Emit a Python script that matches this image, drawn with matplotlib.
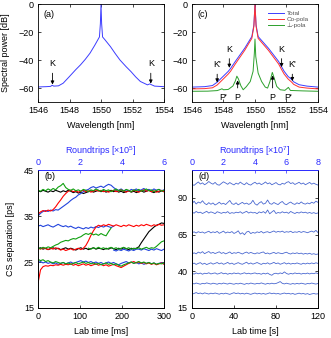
import matplotlib
matplotlib.use('Agg')
import matplotlib.pyplot as plt
import numpy as np

plt.rcParams['font.family'] = ['Liberation Sans', 'DejaVu Sans']
plt.rcParams['font.size'] = 6.5
plt.rcParams['mathtext.default'] = 'regular'
plt.rcParams['axes.linewidth'] = 0.6

# ---- (a) spectrum ----
wl_a = [1546, 1546.5, 1546.8, 1546.9, 1547.0, 1547.3, 1547.6, 1548.0, 1548.4, 1548.7, 1549.0,
        1549.3, 1549.6, 1549.8, 1549.9, 1549.96, 1550, 1550.04, 1550.1, 1550.25, 1550.6,
        1550.9, 1551.2, 1551.6, 1551.9, 1552.2, 1552.5, 1552.95, 1553.1, 1553.2, 1553.4, 1554]
pw_a = [-59.2, -59.0, -58.8, -58.0, -58.6, -58.4, -56.5, -51.7, -46.8, -43.4, -39.5,
        -35.1, -29.5, -25.5, -23.5, -14.0, 0.0, -14.0, -23.5, -25.5, -30.4,
        -35.3, -39.9, -44.8, -48.2, -52.0, -55.3, -57.7, -57.0, -57.6, -58.6, -59.0]

# ---- (c) spectra ----
wl_c = [1546, 1546.8, 1547.3, 1547.6, 1547.9, 1548.3, 1548.45, 1548.75, 1549.35, 1549.8,
        1549.93, 1550, 1550.07, 1550.2, 1550.85, 1551.5, 1551.7, 1551.85, 1552.1, 1552.35,
        1552.45, 1552.8, 1553.3, 1554]
total = [-59.3, -59.0, -58.2, -55.8, -52.5, -48.1, -46.0, -41.0, -31.5, -23.2,
         -15.0, 0.0, -15.0, -23.2, -31.5, -41.0, -45.0, -48.0, -51.7, -54.0,
         -55.5, -57.6, -58.6, -59.3]
copola = [-60.6, -60.4, -59.8, -57.8, -54.5, -50.0, -48.0, -42.8, -33.0, -24.5,
          -16.0, 0.0, -16.0, -24.5, -33.0, -42.8, -47.0, -50.0, -53.5, -56.0,
          -57.3, -59.3, -60.0, -60.6]
wl_g = [1546, 1547.0, 1547.6, 1547.8, 1547.9, 1548.0, 1548.3, 1548.6, 1548.75, 1548.85,
        1548.95, 1549.1, 1549.25, 1549.45, 1549.7, 1549.88, 1549.96, 1550, 1550.05, 1550.2,
        1550.42, 1550.65, 1550.8, 1550.95, 1551.1, 1551.22, 1551.38, 1551.6, 1551.9, 1552.05,
        1552.12, 1552.25, 1553, 1554]
perp = [-62.3, -62.2, -61.8, -61.0, -60.5, -61.2, -61.0, -58.5, -55.0, -51.5,
        -53.5, -58.3, -61.2, -59.0, -55.3, -48.0, -35.0, -25.0, -37.5, -49.3,
        -55.3, -59.3, -60.0, -55.3, -48.8, -52.9, -58.8, -61.2, -61.6, -60.2,
        -59.5, -61.7, -62.0, -62.3]

# ---- (b) CS separations, lab time 0..300 ms step 6 ms ----
t_b = np.arange(0, 301, 6)
nan = np.nan
g1 = [40.6, 40.4, 40.8, 40.5, 40.9, 40.6, 41.0, 40.7, 41.3, 41.6,
      42.1, 41.2, 40.8, 40.6, 40.9, 40.5, 40.7, 40.4, 40.8, 40.6,
      40.3, 40.7, 40.5, 40.9, 40.6, 40.4, 40.8, 40.5, 40.7, 40.3,
      40.6, 40.9, 40.5, 40.7, 40.4, 40.8, 40.6, 40.3, 40.7, 40.5,
      40.8, 40.4, 40.6, 40.9, 40.5, 40.7, 40.3, 40.6, 40.8, 40.4, 40.6]
k1 = [40.5, 40.3, 40.6, 40.4, 40.2, 40.5, 40.3, 40.6, 40.4, 40.2,
      40.5, 40.3, 40.6, 40.4, 40.1, 40.3, 40.0, 40.2, 39.9, 40.1,
      40.3, 40.5, 40.2, 40.4, 40.6, 40.3, 40.5, 40.2, 40.4, 40.6,
      40.3, 40.5, 40.2, 40.4, 40.1, 40.3, 40.5, 40.2, 40.4, 40.1,
      40.3, 40.5, 40.2, 40.4, 40.6, 40.3, 40.1, 40.4, 40.2, 40.5, 40.3]
r1 = [35.4, 35.9, 36.2, 36.0, 36.3, 36.1, 36.4, 37.0, 37.8, 38.5,
      39.3, 39.9, 40.4, 40.6, 40.3, 40.5, 40.2, 40.4, 40.6, 40.3,
      40.5, 40.2, 40.4, 40.7, 40.4, 40.6, 40.3, 40.5, 40.2, 40.4,
      40.6, 40.3, 40.5, 40.7, 40.4, 40.2, 40.5, 40.3, 40.6, 40.4,
      40.2, 40.5, 40.7, 40.4, 40.6, 40.3, 40.5, 40.2, 40.4, 40.6, 40.3]
b1 = [35.0, 35.6, 36.0, 36.2, 36.0, 36.3, 36.1, 36.4, 36.3, 36.7,
      37.1, 37.5, 37.9, 38.4, 38.8, 39.1, 39.6, 39.9, 40.3, 40.6,
      40.8, 41.2, 41.4, 41.1, 41.3, 41.5, 41.2, 41.6, 41.9, 41.7,
      41.2, 40.8, 40.6, 40.9, 40.5, 40.7, 40.4, 40.8, 40.6, 40.9,
      40.5, 40.7, 41.0, 40.6, 40.8, 40.5, 40.9, 40.6, 40.8, 40.5, 40.7]
b2 = [32.8, 33.0, 32.7, 32.9, 33.1, 32.8, 32.6, 32.9, 33.2, 32.9,
      32.7, 32.9, 32.6, 32.8, 32.5, 32.3, 32.6, 32.4, 32.2, 32.5,
      32.3, 32.6, 32.4, 32.7, 32.5, 32.8, 32.6, 32.9, 32.7, 32.5,
      32.8, nan, nan, nan, nan, nan, nan, nan, nan, nan,
      nan, nan, nan, nan, nan, nan, nan, nan, nan, nan, nan]
b3 = [nan, nan, nan, nan, nan, nan, nan, nan, nan, nan,
      nan, nan, nan, nan, nan, nan, nan, nan, nan, nan,
      nan, nan, nan, nan, nan, nan, nan, nan, nan, nan,
      27.6, 27.4, 27.7, 27.5, 27.8, 27.6, 27.4, 27.7, 27.5, 27.8,
      27.8, 27.6, 27.9, 27.7, 27.5, 27.8, 27.6, 27.9, 27.7, 27.5, 27.8]
r2 = [28.0, 27.8, 28.1, 27.9, 27.7, 28.0, 27.8, 28.1, 27.9, 27.6,
      27.8, 27.5, 27.7, 27.9, 27.6, 27.8, 28.0, 27.7, 28.0, 28.6,
      29.6, 30.8, 31.8, 32.6, 33.0, 32.8, 33.1, 32.9, 33.2, 33.0,
      32.8, 33.1, 32.9, 32.7, 33.0, 32.8, 33.1, 32.9, 32.7, 33.0,
      32.8, 33.1, 32.9, 33.2, 33.0, 32.8, 33.1, 32.9, 33.2, 33.0, 33.1]
g2 = [28.1, 27.9, 28.2, 28.0, 28.3, 28.1, 28.4, 28.7, 28.9, 29.3,
      29.5, 29.7, 29.6, 29.9, 30.1, 30.0, 30.3, 30.5, 30.9, 31.2,
      31.0, 31.3, 30.9, 31.1, 30.8, 31.2, 30.9, 30.7, 31.6, 32.4,
      nan, nan, nan, nan, nan, nan, nan, nan, nan, nan,
      nan, nan, nan, nan, nan, nan, nan, nan, nan, nan, nan]
g3 = [nan, nan, nan, nan, nan, nan, nan, nan, nan, nan,
      nan, nan, nan, nan, nan, nan, nan, nan, nan, nan,
      28.0, 27.8, 28.1, 27.9, 28.2, 27.9, 28.1, 27.8, 28.0, 28.2,
      27.9, 28.1, 27.8, 28.0, 28.2, 27.9, 28.1, 27.8, 28.0, 27.9,
      28.1, 27.8, 28.0, 28.2, 27.9, 28.1, 28.0, 28.4, 28.9, 29.4, 29.6]
k2 = [27.9, 28.1, 27.8, 28.0, 27.7, 27.9, 28.1, 27.8, 28.0, 27.7,
      27.9, 28.1, 27.8, 28.0, 27.8, 27.6, 27.9, 28.1, 27.8, 28.0,
      27.7, 27.9, 28.1, 27.8, 28.0, 27.9, 27.7, 28.0, 27.8, 28.1,
      27.9, 27.7, 28.0, 27.8, 28.1, 27.9, 27.7, 28.0, 27.8, 28.0,
      28.3, 29.2, 30.0, 30.8, 31.6, 32.1, 32.6, 33.0, 33.2, 33.5, 33.4]
r3 = [20.4, 23.3, 24.0, 24.2, 24.1, 24.3, 24.2, 24.4, 24.3, 24.5,
      24.3, 24.5, 24.4, 24.6, 24.3, 24.5, 24.2, 24.4, 24.6, 24.3,
      24.5, 24.2, 24.4, 24.6, 24.3, 24.5, 24.2, 24.4, 24.1, 24.3,
      24.5, 24.2, 24.0, 23.8, 24.1, 24.4, 24.7, 24.9, 25.1, 24.8,
      25.0, 24.7, 24.9, 24.6, 24.8, 24.5, 24.7, 24.4, 24.6, 24.8, 24.5]
b4 = [24.9, 25.1, 24.8, 25.0, 24.7, 24.9, 24.6, 24.8, 24.5, 24.7,
      24.9, 24.6, 24.8, 25.0, 24.7, 24.9, 25.1, 25.3, 25.0, 25.2,
      24.9, 25.1, 24.8, 25.0, 24.7, 24.9, 24.6, 24.8, 25.0, 24.7,
      24.9, 24.6, 24.4, 24.7, 24.9, 25.1, 24.8, 25.0, 24.7, 24.9,
      24.6, 24.8, 24.5, 24.7, 24.9, 24.6, 24.8, 24.5, 24.7, 24.9, 24.6]
g4 = [25.6, 25.3, 25.5, 25.1, 25.3, 25.0, 24.8, 25.1, 24.9, 24.7,
      24.9, 24.6, 24.8, 24.5, 24.7, 24.9, 24.6, 24.8, 25.0, 24.7,
      24.9, 24.6, 24.8, 24.5, 24.7, 24.4, 24.6, 24.8, 24.5, 24.7,
      24.4, 24.6, 24.3, 24.1, 24.4, 24.6, 24.8, 25.0, 24.7, 24.9,
      25.1, 24.8, 25.0, 24.7, 24.9, 24.6, 24.8, 24.5, 24.7, 24.6, 24.8]

# ---- (d) CS separations, lab time 0..120 s step 2 s ----
t_d = np.arange(0, 121, 2)
L1 = [99.2, 98.6, 99.8, 100.9, 99.5, 100.3, 99.0, 99.9, 101.2, 100.1,
      99.4, 100.6, 99.1, 98.7, 99.9, 101.0, 100.2, 99.3, 100.5, 99.6,
      98.9, 100.1, 99.4, 100.8, 99.7, 99.0, 100.4, 99.2, 98.8, 99.9,
      100.7, 99.5, 100.2, 99.1, 99.8, 100.9, 99.6, 100.3, 99.0, 99.7,
      100.5, 99.3, 98.9, 100.0, 99.4, 100.6, 101.1, 99.8, 100.4, 99.2,
      99.9, 100.7, 99.5, 100.2, 99.0, 99.8, 100.6, 99.4, 100.1, 99.3, 98.8]
L2 = [86.0, 87.8, 85.9, 87.2, 86.5, 88.1, 86.3, 85.4, 86.8, 85.7,
      86.6, 85.2, 86.0, 87.1, 85.8, 86.4, 85.5, 86.9, 88.3, 86.1,
      85.6, 86.7, 85.3, 86.2, 87.0, 85.9, 86.5, 85.6, 86.3, 88.4,
      86.0, 85.1, 86.6, 87.5, 85.8, 86.4, 88.6, 86.2, 85.7, 86.9,
      86.1, 85.5, 86.8, 87.6, 86.0, 85.4, 86.5, 87.2, 86.1, 85.6,
      86.7, 86.0, 87.3, 86.2, 85.8, 86.6, 86.0, 87.1, 86.4, 87.8, 87.0]
L3 = [80.4, 79.6, 80.8, 79.9, 80.3, 79.4, 80.1, 80.9, 79.7, 80.5,
      80.0, 79.3, 80.6, 80.1, 79.5, 80.2, 79.8, 80.7, 79.4, 80.0,
      79.6, 80.3, 79.9, 80.6, 79.5, 80.2, 80.9, 79.7, 80.4, 79.8,
      80.1, 79.3, 80.5, 79.9, 80.7, 79.6, 81.8, 79.2, 80.4, 81.5,
      79.4, 80.1, 79.7, 80.6, 79.9, 80.3, 79.5, 80.8, 80.0, 79.4,
      80.2, 79.7, 80.5, 79.9, 80.3, 79.6, 80.1, 79.5, 80.0, 79.4, 79.8]
L4 = [66.3, 66.9, 66.1, 67.0, 66.4, 66.8, 66.0, 66.7, 67.3, 66.2,
      66.9, 66.4, 67.2, 65.9, 66.6, 67.4, 66.1, 66.8, 66.3, 67.1,
      65.8, 66.5, 67.6, 65.4, 66.3, 64.9, 66.8, 67.3, 65.7, 66.5,
      66.0, 66.9, 66.4, 67.2, 66.1, 66.7, 67.0, 66.3, 66.9, 67.5,
      66.6, 67.2, 66.8, 67.4, 66.5, 67.0, 66.7, 67.3, 66.4, 66.9,
      66.6, 67.2, 66.5, 67.1, 66.8, 66.3, 66.9, 67.4, 66.7, 67.9, 66.4]
L5 = [51.8, 52.6, 51.9, 53.1, 52.4, 53.4, 52.0, 52.8, 53.5, 52.3,
      52.9, 52.1, 52.7, 53.3, 52.2, 52.8, 51.9, 52.5, 53.2, 52.0,
      52.7, 52.3, 53.0, 52.4, 51.8, 52.6, 53.1, 52.2, 52.9, 52.3,
      51.9, 52.6, 52.2, 52.8, 53.2, 52.0, 52.5, 51.8, 52.4, 52.9,
      52.1, 52.7, 52.3, 52.0, 52.6, 53.0, 52.2, 51.8, 52.5, 52.1,
      52.6, 52.0, 52.4, 51.7, 52.2, 51.8, 52.3, 51.6, 52.0, 51.5, 51.8]
L6 = [44.9, 45.6, 44.7, 45.4, 45.9, 44.8, 45.5, 44.6, 45.2, 45.8,
      44.9, 45.4, 46.0, 45.1, 45.7, 44.8, 45.3, 46.1, 45.0, 45.6,
      44.7, 45.3, 45.9, 45.2, 44.8, 45.5, 46.2, 45.0, 45.7, 44.9,
      45.4, 46.0, 45.3, 44.7, 45.5, 45.1, 45.8, 44.9, 45.4, 46.1,
      45.2, 45.7, 44.8, 45.3, 45.9, 45.0, 45.6, 44.9, 45.4, 45.1,
      45.7, 45.2, 44.8, 45.5, 45.0, 45.6, 45.1, 45.7, 45.2, 45.8, 45.4]
L7 = [38.6, 38.1, 38.9, 38.3, 38.8, 38.0, 38.7, 38.4, 39.0, 38.2,
      38.6, 38.9, 38.1, 38.5, 39.1, 38.3, 38.7, 38.0, 38.6, 38.2,
      38.9, 38.4, 38.8, 38.1, 38.5, 39.0, 38.3, 38.7, 38.2, 38.6,
      38.9, 38.3, 38.5, 38.0, 38.7, 38.2, 38.8, 37.9, 37.3, 38.4,
      38.7, 38.2, 38.9, 38.4, 39.6, 38.5, 38.0, 38.6, 38.2, 38.9,
      38.4, 38.7, 38.1, 38.6, 38.3, 38.8, 38.2, 38.7, 38.4, 38.9, 38.5]
L8 = [31.9, 31.4, 32.0, 31.6, 31.2, 31.8, 31.5, 32.1, 31.7, 31.3,
      31.9, 31.6, 31.2, 31.8, 31.4, 32.0, 31.6, 31.3, 31.9, 31.5,
      31.2, 31.7, 31.4, 31.9, 31.5, 31.1, 31.7, 31.4, 32.0, 31.6,
      31.3, 31.8, 31.5, 32.1, 31.6, 31.2, 31.8, 31.4, 31.9, 31.5,
      31.7, 32.3, 33.0, 31.8, 31.4, 31.9, 31.5, 31.2, 31.7, 31.3,
      31.8, 31.4, 31.9, 31.6, 31.2, 31.7, 31.5, 32.0, 31.6, 31.3, 31.7]
L9 = [24.4, 24.9, 25.5, 24.8, 25.2, 24.6, 25.3, 24.9, 24.5, 25.1,
      24.7, 25.2, 24.8, 24.4, 25.0, 24.6, 25.1, 24.7, 24.3, 24.9,
      25.4, 24.8, 25.2, 24.6, 25.0, 24.5, 25.1, 24.7, 24.3, 24.8,
      25.2, 24.6, 25.0, 24.5, 24.9, 24.4, 24.8, 25.3, 24.7, 25.1,
      24.6, 24.9, 24.4, 24.8, 25.2, 24.7, 25.0, 24.5, 24.9, 24.3,
      24.7, 25.1, 24.6, 24.9, 24.4, 24.8, 24.2, 24.6, 24.9, 24.5, 24.7]

BLUE = '#3c3cff'
RED = '#ff3030'
GREEN = '#2ca02c'
AXBLUE = '#2a2aff'
DBLUE = '#4a68d0'


def style(ax):
    ax.tick_params(direction='in', length=2.5, width=0.5, top=True, right=True, pad=3)


def arrow(ax, label, x, ytext, yhead, up=False):
    ax.annotate(label, xy=(x, yhead), xytext=(x, ytext), ha='center', va='center',
                fontsize=6.5,
                arrowprops=dict(arrowstyle='-|>', lw=0.6, color='black',
                                mutation_scale=5, shrinkA=1.5, shrinkB=0))


fig = plt.figure(figsize=(3.31, 3.38), dpi=100)
ax_a = fig.add_axes([0.1148, 0.698, 0.3807, 0.29])
ax_c = fig.add_axes([0.580, 0.698, 0.3807, 0.29])
ax_b = fig.add_axes([0.1148, 0.0888, 0.3807, 0.408])
ax_d = fig.add_axes([0.580, 0.0888, 0.3807, 0.408])

# (a)
ax_a.plot(wl_a, pw_a, color=BLUE, lw=0.7)
ax_a.set_xlim(1546, 1554)
ax_a.set_ylim(-70, 0)
ax_a.set_xticks([1546, 1548, 1550, 1552, 1554])
ax_a.set_yticks([0, -20, -40, -60])
ax_a.set_xlabel('Wavelength [nm]')
ax_a.set_ylabel('Spectral power [dB]')
ax_a.yaxis.set_label_coords(-0.225, 0.5)
ax_a.xaxis.set_label_coords(0.5, -0.19)
ax_a.text(0.04, 0.89, '(a)', transform=ax_a.transAxes, ha='left', va='center')
arrow(ax_a, 'K', 1546.92, -42.7, -57.5)
arrow(ax_a, 'K', 1553.16, -42.7, -56.8)
style(ax_a)

# (c)
ax_c.plot(wl_c, total, color=BLUE, lw=0.7, label='Total')
ax_c.plot(wl_c, copola, color=RED, lw=0.7, label='Co-pola')
ax_c.plot(wl_g, perp, color=GREEN, lw=0.7, label='⊥-pola')
ax_c.set_xlim(1546, 1554)
ax_c.set_ylim(-70, 0)
ax_c.set_xticks([1546, 1548, 1550, 1552, 1554])
ax_c.set_yticks([0, -20, -40, -60])
ax_c.set_xlabel('Wavelength [nm]')
ax_c.xaxis.set_label_coords(0.5, -0.19)
ax_c.text(0.04, 0.89, '(c)', transform=ax_c.transAxes, ha='left', va='center')
leg = ax_c.legend(loc='upper left', bbox_to_anchor=(0.6, 0.93), frameon=False,
                  fontsize=4.6, handlelength=2.6, handletextpad=0.4,
                  labelspacing=0.05, borderpad=0, borderaxespad=0)
for txt in leg.get_texts():
    txt.set_color('#555555')
arrow(ax_c, "K'", 1547.6, -43.4, -56.0)
arrow(ax_c, 'K', 1548.37, -32.3, -45.5)
arrow(ax_c, 'K', 1551.69, -32.3, -45.0)
arrow(ax_c, "K'", 1552.37, -43.4, -55.0)
arrow(ax_c, 'P', 1548.9, -66.6, -54.5)
arrow(ax_c, 'P', 1551.12, -66.6, -51.0)
ax_c.text(1547.95, -66.8, "P'", ha='center', va='center')
ax_c.text(1552.12, -66.8, "P'", ha='center', va='center')
style(ax_c)

# (b)
for y, c in [(k1, 'black'), (k2, 'black'), (b1, '#2244dd'), (b2, '#2244dd'), (b3, '#2244dd'),
             (b4, '#2244dd'), (r1, 'red'), (r2, 'red'), (r3, 'red'),
             (g3, '#10a010'), (g2, '#10a010'), (g4, '#10a010'), (g1, '#10a010')]:
    ax_b.plot(t_b, y, color=c, lw=0.8)
ax_b.set_xlim(0, 300)
ax_b.set_ylim(15, 45)
ax_b.set_xticks([0, 100, 200, 300])
ax_b.set_yticks([15, 25, 35, 45])
ax_b.set_xlabel('Lab time [ms]')
ax_b.set_ylabel('CS separation [ps]')
ax_b.yaxis.set_label_coords(-0.18, 0.5)
ax_b.xaxis.set_label_coords(0.5, -0.135)
ax_b.text(0.05, 0.95, '(b)', transform=ax_b.transAxes, ha='left', va='center')
ax_b.tick_params(direction='in', length=2.5, width=0.5, right=True, pad=3)
tb = ax_b.twiny()
tb.set_xlim(0, 6)
tb.set_xticks([0, 2, 4, 6])
tb.set_xlabel('Roundtrips [×10$^5$]', color=AXBLUE, labelpad=3)
tb.tick_params(direction='in', length=2.5, width=0.5, colors=AXBLUE, pad=2)
tb.spines['top'].set_color(AXBLUE)
ax_b.spines['top'].set_color(AXBLUE)

# (d)
for y in [L1, L2, L3, L4, L5, L6, L7, L8, L9]:
    ax_d.plot(t_d, y, color=DBLUE, lw=0.6)
ax_d.set_xlim(0, 120)
ax_d.set_ylim(15, 109)
ax_d.set_xticks([0, 40, 80, 120])
ax_d.set_yticks([15, 40, 65, 90])
ax_d.set_xlabel('Lab time [s]')
ax_d.xaxis.set_label_coords(0.5, -0.135)
ax_d.text(0.055, 0.95, '(d)', transform=ax_d.transAxes, ha='left', va='center')
ax_d.tick_params(direction='in', length=2.5, width=0.5, right=True, pad=3)
td = ax_d.twiny()
td.set_xlim(0, 8)
td.set_xticks([0, 2, 4, 6, 8])
td.set_xlabel('Roundtrips [×10$^7$]', color=AXBLUE, labelpad=3)
td.tick_params(direction='in', length=2.5, width=0.5, colors=AXBLUE, pad=2)
td.spines['top'].set_color(AXBLUE)
ax_d.spines['top'].set_color(AXBLUE)

fig.savefig('out.png', dpi=100)
